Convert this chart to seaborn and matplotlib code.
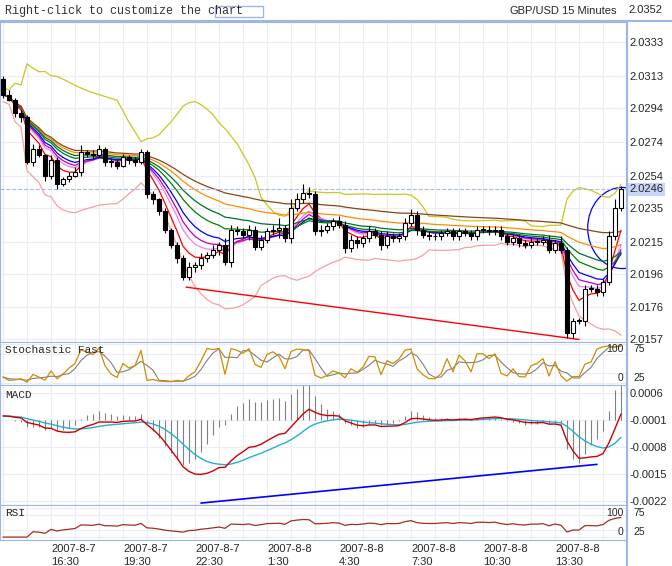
import numpy as np
import pandas as pd
import seaborn as sns
import matplotlib.pyplot as plt
from matplotlib.patches import Ellipse

sns.set_style("white")
plt.rcParams['font.family'] = ['Liberation Sans', 'DejaVu Sans']

# 15 minute GBP/USD closes
first_open = 2.0311
closes = [2.0302, 2.0299, 2.0291, 2.0289, 2.0262, 2.0270, 2.0266, 2.0254, 2.0263, 2.0249,
          2.0252, 2.0254, 2.0256, 2.0268, 2.0267, 2.0266, 2.0270, 2.0262, 2.0262, 2.0260,
          2.0265, 2.0263, 2.0262, 2.0268, 2.0243, 2.0240, 2.0233, 2.0222, 2.0213, 2.0205,
          2.0194, 2.0200, 2.0201, 2.0205, 2.0207, 2.0210, 2.0213, 2.0203, 2.0222, 2.0221,
          2.0219, 2.0222, 2.0212, 2.0216, 2.0221, 2.0222, 2.0223, 2.0217, 2.0235, 2.0240,
          2.0244, 2.0243, 2.0221, 2.0222, 2.0224, 2.0227, 2.0225, 2.0211, 2.0216, 2.0214,
          2.0217, 2.0221, 2.0219, 2.0213, 2.0218, 2.0217, 2.0218, 2.0226, 2.0231, 2.0222,
          2.0219, 2.0218, 2.0218, 2.0220, 2.0221, 2.0218, 2.0221, 2.0220, 2.0218, 2.0222,
          2.0222, 2.0221, 2.0222, 2.0218, 2.0215, 2.0217, 2.0214, 2.0213, 2.0215, 2.0215,
          2.0216, 2.0210, 2.0214, 2.0210, 2.0161, 2.0168, 2.0168, 2.0187, 2.0187, 2.0185,
          2.0191, 2.0218, 2.0235, 2.0246]
# wick lengths in pips
wick_up = [2, 3, 1, 2, 1, 3, 2, 1, 3, 2, 1, 2, 3, 4, 1, 2, 2, 1, 2, 1,
           2, 1, 2, 2, 1, 2, 1, 2, 1, 2, 2, 3, 2, 3, 2, 3, 2, 4, 3, 2,
           2, 3, 2, 3, 2, 3, 6, 2, 5, 4, 5, 3, 2, 3, 2, 2, 3, 2, 3, 2,
           2, 3, 2, 2, 3, 2, 2, 3, 3, 2, 2, 2, 2, 2, 2, 2, 2, 2, 2, 2,
           2, 2, 2, 2, 2, 2, 2, 2, 2, 2, 2, 3, 2, 4, 2, 2, 2, 2, 2, 2,
           2, 3, 5, 2]
wick_dn = [2, 1, 2, 3, 1, 2, 1, 3, 2, 3, 1, 2, 1, 2, 2, 2, 1, 2, 3, 2,
           1, 2, 2, 1, 2, 3, 2, 2, 2, 3, 2, 2, 3, 2, 2, 2, 3, 2, 3, 2,
           2, 3, 2, 2, 2, 2, 5, 2, 3, 2, 2, 2, 2, 3, 2, 2, 2, 3, 2, 3,
           2, 2, 2, 3, 2, 2, 2, 2, 2, 3, 2, 2, 2, 2, 2, 2, 2, 2, 2, 2,
           2, 2, 2, 2, 2, 2, 2, 2, 2, 2, 2, 2, 2, 2, 3, 3, 2, 3, 2, 2,
           2, 2, 2, 2]

tick_pos = [8, 20, 32, 44, 56, 68, 80, 92]
tick_labels = ["2007-8-7\n16:30", "2007-8-7\n19:30", "2007-8-7\n22:30", "2007-8-8\n1:30",
               "2007-8-8\n4:30", "2007-8-8\n7:30", "2007-8-8\n10:30", "2007-8-8\n13:30"]
price_ticks = [2.0352, 2.0333, 2.0313, 2.0294, 2.0274, 2.0254, 2.0235, 2.0215, 2.0196, 2.0176, 2.0157]
macd_ticks = [0.0006, -0.0001, -0.0008, -0.0015, -0.0022]
last_price = 2.0246

# trend lines (bar index, value)
price_trend = ([30.5, 96], [2.0188, 2.0157])
macd_trend = ([33, 99], [-0.00225, -0.00125])

df = pd.DataFrame({"close": closes})
df["i"] = np.arange(len(df))
df["open"] = [first_open] + closes[:-1]
df["high"] = df[["open", "close"]].max(axis=1) + np.array(wick_up) * 0.0001
df["low"] = df[["open", "close"]].min(axis=1) - np.array(wick_dn) * 0.0001
c = df["close"]

ma_specs = [(5, "red"), (8, "violet"), (10, "m"), (13, "blue"), (20, "green"),
            (30, "#007030"), (55, "darkorange"), (150, "saddlebrown")]
mid = c.rolling(20, min_periods=1).mean()
sd = c.rolling(20, min_periods=2).std().bfill()
df["bb_up"] = mid + 2 * sd
df["bb_dn"] = mid - 2 * sd

low5 = df["low"].rolling(5, min_periods=1).min()
high5 = df["high"].rolling(5, min_periods=1).max()
df["k"] = 100 * (c - low5) / (high5 - low5)
df["d"] = df["k"].rolling(3, min_periods=1).mean()

ema12 = c.ewm(span=12).mean()
ema26 = c.ewm(span=26).mean()
df["macd"] = ema12 - ema26
df["signal"] = df["macd"].ewm(span=9).mean()
df["hist"] = df["macd"] - df["signal"]

delta = c.diff().fillna(0)
gain = delta.clip(lower=0).ewm(alpha=1 / 14).mean()
loss = (-delta.clip(upper=0)).ewm(alpha=1 / 14).mean()
df["rsi"] = 100 - 100 / (1 + gain / (loss + 1e-9))

fig = plt.figure(figsize=(6.72, 5.66), dpi=100)
frame = "#9fb5e3"
W = 627 / 672
ax_p = fig.add_axes([0, 224 / 566, W, 320 / 566])
ax_s = fig.add_axes([0, 181 / 566, W, 43 / 566], sharex=ax_p)
ax_m = fig.add_axes([0, 61 / 566, W, 120 / 566], sharex=ax_p)
ax_r = fig.add_axes([0, 26 / 566, W, 35 / 566], sharex=ax_p)

for ax in (ax_p, ax_s, ax_m, ax_r):
    for s in ax.spines.values():
        s.set_color(frame)
    ax.grid(True, color="#ececf6", lw=0.8)
    ax.set_axisbelow(True)
    ax.tick_params(axis="x", length=0, labelbottom=False)
    ax.yaxis.tick_right()
    ax.tick_params(axis="y", length=0, labelsize=8, pad=2)
    ax.set_xticks(np.arange(-4, 108, 4))
    ax.set_xlabel("")
    ax.set_ylabel("")

# price panel
sns.lineplot(x=df["i"], y=df["bb_up"], color="#c8c820", lw=0.9, ax=ax_p)
sns.lineplot(x=df["i"], y=df["bb_dn"], color="#f5a0a0", lw=0.9, ax=ax_p)
for span, col in ma_specs:
    sns.lineplot(x=df["i"], y=c.ewm(span=span).mean(), color=col, lw=0.9, ax=ax_p)
ax_p.vlines(df["i"], df["low"], df["high"], color="black", lw=0.8, zorder=3)
up = df["close"] >= df["open"]
body = (df["close"] - df["open"]).abs().clip(lower=0.00005)
ax_p.bar(df["i"][up], body[up], bottom=df["open"][up], width=0.7, color="white",
         edgecolor="black", lw=0.8, zorder=4)
ax_p.bar(df["i"][~up], body[~up], bottom=df["close"][~up], width=0.7, color="black",
         edgecolor="black", lw=0.8, zorder=4)
ax_p.plot(*price_trend, color="red", lw=1)
ax_p.axhline(last_price, color="#a8b8f0", ls="--", lw=0.8)
ax_p.add_patch(Ellipse((103.2, 2.0223), 11.5, 0.0048, fill=False, color="blue", lw=0.9))
ax_p.set_ylim(2.01555, 2.0345)
ax_p.set_yticks(price_ticks[1:])
ax_p.set_yticklabels([f"{v:.4f}" for v in price_ticks[1:]])
ax_p.text(1.004, last_price, f"{last_price:.4f}", transform=ax_p.get_yaxis_transform(),
          va="center", fontsize=8, bbox=dict(fc="#c8d4f8", ec="none", pad=1))
ax_p.set_xlim(-0.5, 104)
ax_p.set_xlabel("")
ax_p.set_ylabel("")


def osc_labels(ax):
    ax.set_yticks([0, 25, 75, 100])
    ax.set_yticklabels([])
    tr = ax.get_yaxis_transform()
    ax.text(0.995, 100, "100", transform=tr, ha="right", va="top", fontsize=7.5)
    ax.text(1.01, 100, "75", transform=tr, ha="left", va="top", fontsize=7.5)
    ax.text(0.995, 0, "0", transform=tr, ha="right", va="bottom", fontsize=7.5)
    ax.text(1.01, 0, "25", transform=tr, ha="left", va="bottom", fontsize=7.5)


# stochastic
sns.lineplot(x=df["i"], y=df["d"], color="gray", lw=0.8, ax=ax_s)
sns.lineplot(x=df["i"], y=df["k"], color="#d08c00", lw=0.9, ax=ax_s)
ax_s.set_ylim(-5, 105)
osc_labels(ax_s)
ax_s.text(0.008, 0.92, "Stochastic Fast", transform=ax_s.transAxes, va="top", fontsize=8,
          family="Liberation Mono")

# MACD
hscale = 2
ax_m.vlines(df["i"], -0.0001, -0.0001 + df["hist"] * hscale, color="gray", lw=0.8)
sns.lineplot(x=df["i"], y=df["signal"], color="#20b0d0", lw=1, ax=ax_m)
sns.lineplot(x=df["i"], y=df["macd"], color="#d00000", lw=1, ax=ax_m)
ax_m.plot(*macd_trend, color="blue", lw=1.2)
ax_m.set_ylim(-0.0023, 0.0008)
ax_m.set_yticks(macd_ticks)
ax_m.set_yticklabels([f"{v:.4f}" for v in macd_ticks])
ax_m.text(0.008, 0.96, "MACD", transform=ax_m.transAxes, va="top", fontsize=8,
          family="Liberation Mono")

# RSI
sns.lineplot(x=df["i"], y=df["rsi"], color="#a03020", lw=0.9, ax=ax_r)
ax_r.set_ylim(-10, 110)
osc_labels(ax_r)
ax_r.text(0.008, 0.92, "RSI", transform=ax_r.transAxes, va="top", fontsize=8,
          family="Liberation Mono")
for p, lab in zip(tick_pos, tick_labels):
    ax_r.text(p, -0.12, lab, transform=ax_r.get_xaxis_transform(), ha="left", va="top",
              fontsize=8, linespacing=1.3)
for ax in (ax_p, ax_s, ax_m, ax_r):
    ax.set_xlabel("")
    ax.set_ylabel("")

# header
fig.text(0.007, 1 - 11 / 566, "Right-click to customize the chart", va="center",
         fontsize=8.5, family="Liberation Mono", color="#333333")
fig.patches.append(plt.Rectangle((215 / 672, 1 - 17 / 566), 48 / 672, 11 / 566,
                                 transform=fig.transFigure, fc="white", ec=frame))
fig.text(509 / 672, 1 - 11 / 566, "GBP/USD", va="center", fontsize=8)
fig.text(562 / 672, 1 - 11 / 566, "15 Minutes", va="center", fontsize=8)
fig.text(0.935, 1 - 10 / 566, "2.0352", va="center", fontsize=8)
fig.lines.append(plt.Line2D([0, 1], [1 - 21 / 566] * 2, transform=fig.transFigure, color=frame))
fig.lines.append(plt.Line2D([W, W], [0, 1 - 21 / 566], transform=fig.transFigure, color=frame))

fig.savefig("out.png", dpi=100)
